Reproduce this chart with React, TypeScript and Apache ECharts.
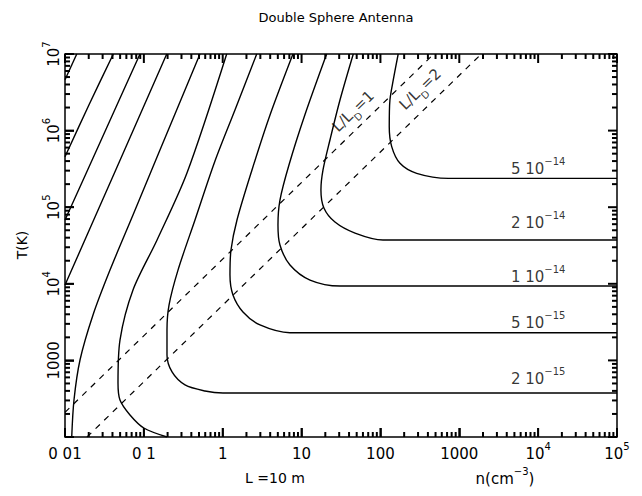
import { useEffect, useRef } from 'react';
import * as echarts from 'echarts';

const FONT = 'DejaVu Sans';

// Axis ranges and ticks
const xMin = 0.01;
const xMax = 1e5;
const yMin = 100;
const yMax = 1e7;
const xMajor = [0.01, 0.1, 1, 10, 100, 1000, 1e4, 1e5];
const xLabelTexts = ['{m|0 01}', '{m|0 1}', '{m|1}', '{m|10}', '{m|100}', '{m|1000}', '{m|10}{s|4}', '{m|10}{s|5}'];
const yMajor = [100, 1000, 1e4, 1e5, 1e6, 1e7];
const yLabelled = [1000, 1e4, 1e5, 1e6, 1e7];
const yLabelTexts = ['{m|1000}', '{m|10}{s|4}', '{m|10}{s|5}', '{m|10}{s|6}', '{m|10}{s|7}'];
const minorMultipliers = [2, 3, 4, 5, 6, 7, 8, 9];

// Contours: [n (cm^-3), T (K)]
const curveA = [[0.01, 4.6e6], [0.0141, 1e7]];
const curveB = [[0.01, 4.56e5], [0.0201, 2.16e6], [0.041, 1e7]];
const curveC = [[0.01, 6.81e4], [0.0299, 8.25e5], [0.0893, 1e7]];
const curveD = [[0.01, 9640], [0.044, 3.06e5], [0.195, 1e7]];
const curveE = [[0.01217, 100], [0.013, 304], [0.0155, 1012], [0.02265, 3917], [0.0372, 1.51e4], [0.0728, 7.9e4], [0.16, 5.58e5], [0.515, 1e7]];
const curveF = [[1.123, 1e7], [0.352, 2.79e5], [0.147, 3.73e4], [0.0728, 8300], [0.0498, 1845], [0.047, 507], [0.0498, 304], [0.0667, 194], [0.1, 131], [0.1965, 100]];
const curve2e15 = [[2.7, 1e7], [1.43, 1.86e6], [0.798, 4.01e5], [0.445, 6.81e4], [0.271, 1.51e4], [0.2085, 5280], [0.1965, 2490], [0.1965, 1175], [0.2277, 706], [0.3327, 478], [0.5957, 399], [1.008, 375], [1e5, 375]];
const curve5e15 = [[7.78, 1e7], [3.98, 1.6e6], [2.35, 3.06e5], [1.517, 6.81e4], [1.273, 2.76e4], [1.236, 1.3e4], [1.349, 7140], [1.807, 4290], [2.97, 2900], [7.13, 2300], [1e5, 2300]];
const curve1e14 = [[20.8, 1e7], [11.0, 1.6e6], [6.92, 3.56e5], [5.32, 1.24e5], [5.02, 5.86e4], [5.32, 3.21e4], [7.13, 1.76e4], [12.8, 1.12e4], [30.7, 9360], [1e5, 9360]];
const curve2e14 = [[45.3, 1e7], [30.7, 2.51e6], [22.9, 7.54e5], [18.7, 3.06e5], [17.6, 1.68e5], [19.2, 9.77e4], [26.5, 6.41e4], [47.6, 4.6e4], [107.7, 3.73e4], [1e5, 3.73e4]];
const curve5e14 = [[168, 1e7], [145.5, 4.58e6], [132, 2.51e6], [129.4, 1.125e6], [139, 6.17e5], [177, 3.74e5], [288, 2.77e5], [726, 2.38e5], [1e5, 2.38e5]];
const contours = [curveA, curveB, curveC, curveD, curveE, curveF, curve2e15, curve5e15, curve1e14, curve2e14, curve5e14];

// Debye-length lines
const ldRatio1 = [[0.01, 210], [475, 1e7]];
const ldRatio2 = [[0.019, 100], [1900, 1e7]];
const ldLabelTexts = ['{m|L/L}{d|D}{m|=1}', '{m|L/L}{d|D}{m|=2}'];
const ldLabelPos = [[47.5, 1.7e6], [336, 3.29e6]];

// Contour labels
const contourLabelTexts = ['{m|5 10}{s|−14}', '{m|2 10}{s|−14}', '{m|1 10}{s|−14}', '{m|5 10}{s|−15}', '{m|2 10}{s|−15}'];
const contourLabelPos = [[1e4, 3.45e5], [1e4, 6.8e4], [1e4, 1.34e4], [1e4, 3270], [1e4, 625]];

// Layout
const W = 642;
const H = 496;
const GRID = { left: 65, right: 25, top: 54, bottom: 59 };

const richTicks = {
  m: { fontSize: 15, fontFamily: FONT, color: '#000', lineHeight: 20, verticalAlign: 'bottom' },
  s: { fontSize: 10, fontFamily: FONT, color: '#000', lineHeight: 20, verticalAlign: 'top' },
};
const richSub = {
  m: { fontSize: 15, fontFamily: FONT, color: '#000', lineHeight: 20, verticalAlign: 'top' },
  d: { fontSize: 10, fontFamily: FONT, color: '#000', lineHeight: 20, verticalAlign: 'bottom' },
};

function minorsOf(majors: number[]) {
  const out: number[] = [];
  for (let i = 0; i < majors.length - 1; i++) {
    for (const k of minorMultipliers) out.push(k * majors[i]);
  }
  return out;
}

function expKey(v: number) {
  return Math.round(Math.log10(v));
}

export default function App() {
  const ref = useRef<HTMLDivElement>(null);
  useEffect(() => {
    if (!ref.current) return;
    const chart = echarts.init(ref.current, undefined, { renderer: 'svg' });
    const xBase = { type: 'log', logBase: 10, min: xMin, max: xMax, splitLine: { show: false }, axisLine: { show: false } };
    const yBase = { type: 'log', logBase: 10, min: yMin, max: yMax, splitLine: { show: false }, axisLine: { show: false } };

    const xFmt = (v: number) => {
      const i = xMajor.findIndex((m) => expKey(m) === expKey(v));
      return i >= 0 ? xLabelTexts[i] : '';
    };
    const yFmt = (v: number) => {
      const i = yLabelled.findIndex((m) => expKey(m) === expKey(v));
      return i >= 0 ? yLabelTexts[i] : '';
    };

    const lineSeries = contours.map((c) => ({
      type: 'line',
      data: c,
      showSymbol: false,
      symbol: 'none',
      smooth: 0.3,
      clip: true,
      lineStyle: { color: '#000', width: 1.4 },
      silent: true,
    }));

    // Tick marks as short line segments through the chart's scales.
    const plotW = W - GRID.left - GRID.right;
    const plotH = H - GRID.top - GRID.bottom;
    const pxPerDecX = plotW / Math.log10(xMax / xMin);
    const pxPerDecY = plotH / Math.log10(yMax / yMin);
    const fy = (px: number) => Math.pow(10, px / pxPerDecY);
    const fx = (px: number) => Math.pow(10, px / pxPerDecX);
    const tickData: any[] = [];
    const addSeg = (a: number[], b: number[]) => { tickData.push(a, b, null); };
    const addX = (v: number, len: number) => {
      addSeg([v, yMin], [v, yMin * fy(len)]);
      addSeg([v, yMax / fy(len)], [v, yMax]);
    };
    const addY = (v: number, len: number) => {
      addSeg([xMin, v], [xMin * fx(len), v]);
      addSeg([xMax / fx(len), v], [xMax, v]);
    };
    xMajor.forEach((v) => addX(v, 9));
    minorsOf(xMajor).forEach((v) => addX(v, 5));
    yMajor.forEach((v) => addY(v, 9));
    minorsOf(yMajor).forEach((v) => addY(v, 5));

    const tickSegSeries = (pairs: number[][][]) => pairs.map(([a, b]) => ({
      type: 'line', data: [a, b], showSymbol: false, symbol: 'none', clip: true, silent: true,
      lineStyle: { color: '#000', width: 2 },
    }));
    const pairs: number[][][] = [];
    for (let i = 0; i + 1 < tickData.length; i += 3) pairs.push([tickData[i], tickData[i + 1]]);

    const majorTick = { show: true, inside: true, length: 9, lineStyle: { color: '#000', width: 1.5 } };

    const option = {
      animation: false,
      backgroundColor: '#fff',
      grid: { ...GRID, show: true, borderColor: '#000', borderWidth: 1.5, backgroundColor: 'transparent' },
      xAxis: [
        { ...xBase, position: 'bottom', interval: 1, axisTick: majorTick,
          axisLabel: { customValues: xMajor, formatter: xFmt, margin: 4, rich: richTicks, color: '#000' } },
      ],
      yAxis: [
        { ...yBase, position: 'left', interval: 1, axisTick: majorTick,
          axisLabel: { customValues: yLabelled, formatter: yFmt, rotate: 90, margin: 4, rich: richTicks, color: '#000' } },
      ],
      series: [
        ...lineSeries,
        { type: 'line', data: ldRatio1, showSymbol: false, symbol: 'none', clip: true, silent: true, lineStyle: { color: '#000', width: 1.2, type: [6, 6] } },
        { type: 'line', data: ldRatio2, showSymbol: false, symbol: 'none', clip: true, silent: true, lineStyle: { color: '#000', width: 1.2, type: [6, 6] } },
        {
          type: 'scatter', symbolSize: 0, silent: true,
          data: ldLabelPos.map((p, i) => ({ value: p, label: { formatter: ldLabelTexts[i] } })),
          label: { show: true, position: 'inside', rotate: 44, rich: richSub },
        },
        {
          type: 'scatter', symbolSize: 0, silent: true,
          data: contourLabelPos.map((p, i) => ({ value: p, label: { formatter: contourLabelTexts[i] } })),
          label: { show: true, position: 'inside', rich: richTicks },
        },
        ...tickSegSeries(pairs),
      ],
      graphic: [
        { type: 'text', x: 336, y: 17, style: { text: 'Double Sphere Antenna', fontSize: 13, fontFamily: FONT, fill: '#000', align: 'center', verticalAlign: 'middle' } },
        { type: 'text', x: 22, y: 245, rotation: Math.PI / 2, style: { text: 'T(K)', fontSize: 14, fontFamily: FONT, fill: '#000', align: 'center', verticalAlign: 'middle' } },
        { type: 'text', x: 275, y: 478, style: { text: 'L =10 m', fontSize: 14, fontFamily: FONT, fill: '#000', align: 'center', verticalAlign: 'middle' } },
        { type: 'text', x: 505, y: 476, style: { text: '{m|n(cm}{s|−3}{m|)}', rich: richTicks, fill: '#000', align: 'center', verticalAlign: 'middle' } },
      ],
    };
    chart.setOption(option as any);
    return () => chart.dispose();
  }, []);
  return <div ref={ref} style={{ width: W, height: H, position: 'absolute', left: 0, top: 0 }} />;
}
